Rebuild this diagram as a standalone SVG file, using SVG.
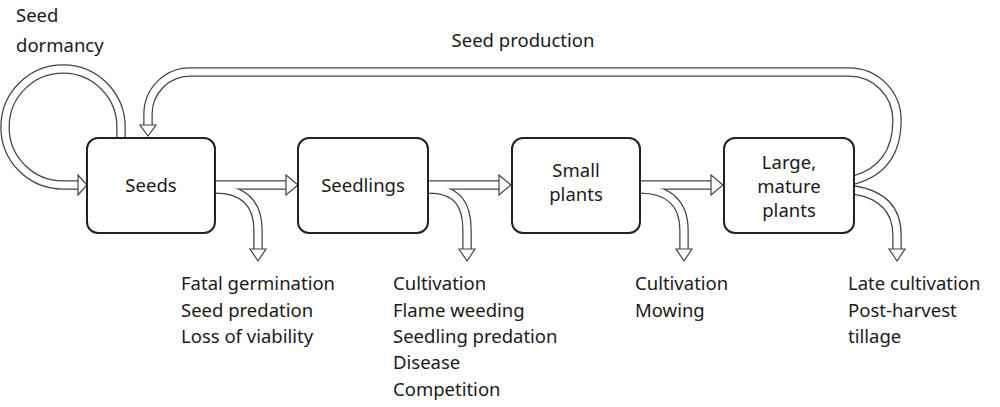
<svg xmlns="http://www.w3.org/2000/svg" width="1000" height="407" viewBox="0 0 1000 407">
<style>
text{font-family:"Noto Sans","Open Sans",sans-serif;font-size:18.5px;fill:#1a1a1a}
.box{fill:#fff;stroke:#222;stroke-width:2}
.o{fill:none;stroke:#444;stroke-width:9.5}
.i{fill:none;stroke:#fff;stroke-width:7}
.h{fill:#fff;stroke:#444;stroke-width:1.2;stroke-linejoin:miter}
</style>
<defs>
<path id="p1" d="M121,140 V128 A58,58 0 1 0 63,185 H79"/>
<path id="p2" d="M854,180 Q897,168 897,120 A48,48 0 0 0 849,72 H190 A42,42 0 0 0 148,114 V126"/>
<path id="a1" d="M215,185 H287"/>
<path id="b1" d="M215,189 C245,189 258,205 258,230 V250"/>
<path id="a2" d="M428,185 H500"/>
<path id="b2" d="M428,189 C458,189 467,205 467,230 V250"/>
<path id="a3" d="M640,185 H712"/>
<path id="b3" d="M640,189 C670,189 684,205 684,230 V250"/>
<path id="b4" d="M854,190 Q897,197 897,235 V250"/>
</defs>
<g id="connectors">
<use href="#p1" class="o"/><use href="#p2" class="o"/><use href="#a1" class="o"/><use href="#b1" class="o"/><use href="#a2" class="o"/><use href="#b2" class="o"/><use href="#a3" class="o"/><use href="#b3" class="o"/><use href="#b4" class="o"/>
<use href="#p1" class="i"/><use href="#p2" class="i"/><use href="#a1" class="i"/><use href="#b1" class="i"/><use href="#a2" class="i"/><use href="#b2" class="i"/><use href="#a3" class="i"/><use href="#b3" class="i"/><use href="#b4" class="i"/>
<polygon class="h" points="78,175 87,185 78,195"/>
<polygon class="h" points="140,125 156,125 148,136"/>
<polygon class="h" points="286,175 298,185 286,195"/>
<polygon class="h" points="499,175 511,185 499,195"/>
<polygon class="h" points="711,175 723,185 711,195"/>
<polygon class="h" points="250,249 266,249 258,261"/>
<polygon class="h" points="459,249 475,249 467,261"/>
<polygon class="h" points="676,249 692,249 684,261"/>
<polygon class="h" points="889,249 905,249 897,261"/>
</g>
<g id="seeds"><rect class="box" x="87" y="138" width="128" height="95" rx="11"/><text x="151" y="192" text-anchor="middle">Seeds</text></g>
<g id="seedlings"><rect class="box" x="298" y="138" width="130" height="95" rx="11"/><text x="363" y="192" text-anchor="middle">Seedlings</text></g>
<g id="small"><rect class="box" x="512" y="138" width="128" height="95" rx="11"/><text x="576" y="177" text-anchor="middle">Small</text><text x="576" y="201" text-anchor="middle">plants</text></g>
<g id="large"><rect class="box" x="724" y="138" width="130" height="95" rx="11"/><text x="789" y="169" text-anchor="middle">Large,</text><text x="789" y="193" text-anchor="middle">mature</text><text x="789" y="217" text-anchor="middle">plants</text></g>
<g id="labels">
<text x="16" y="22">Seed</text><text x="16" y="52">dormancy</text>
<text x="523" y="47" text-anchor="middle">Seed production</text>
<text x="181" y="290">Fatal germination</text><text x="181" y="317">Seed predation</text><text x="181" y="343">Loss of viability</text>
<text x="393" y="290">Cultivation</text><text x="393" y="317">Flame weeding</text><text x="393" y="343">Seedling predation</text><text x="393" y="369">Disease</text><text x="393" y="396">Competition</text>
<text x="635" y="290">Cultivation</text><text x="635" y="317">Mowing</text>
<text x="848" y="290">Late cultivation</text><text x="848" y="317">Post-harvest</text><text x="848" y="343">tillage</text>
</g>
</svg>
